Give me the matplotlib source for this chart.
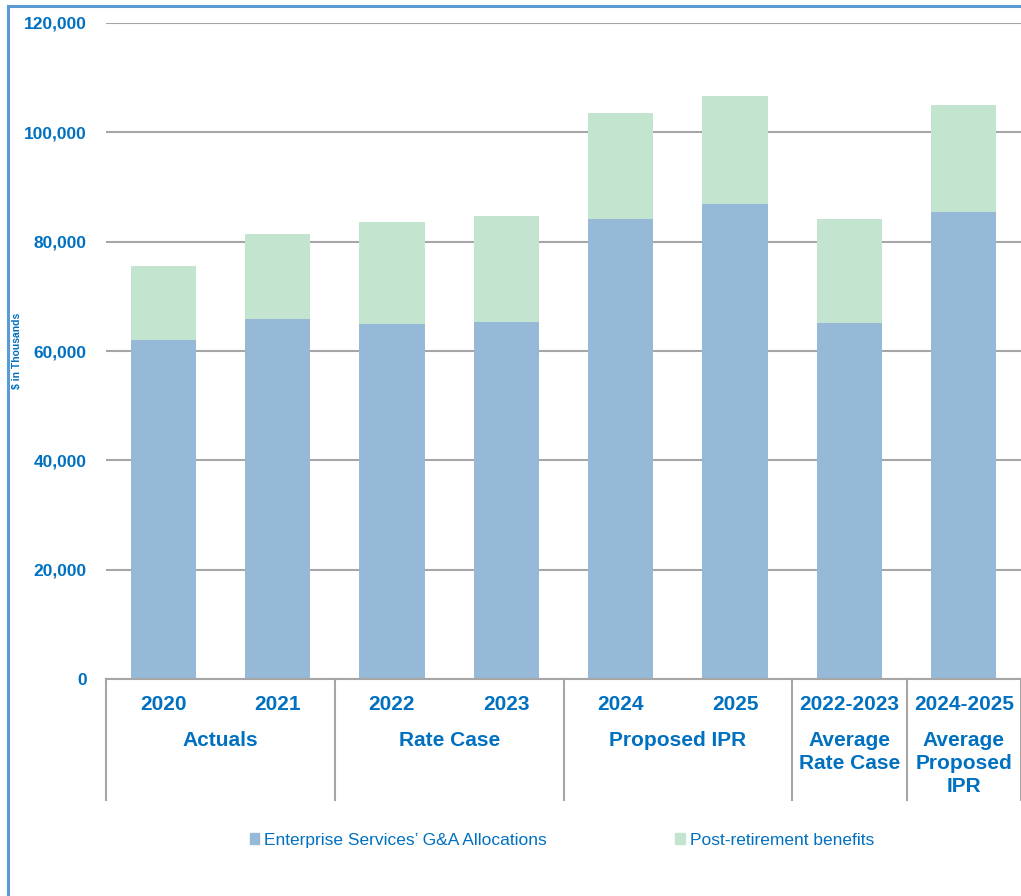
import numpy as np
import matplotlib.pyplot as plt
from matplotlib.patches import Rectangle, Patch
from matplotlib.ticker import FuncFormatter

plt.rcParams['font.family'] = ['Liberation Sans', 'DejaVu Sans']

# Datos en miles de dólares
years = ['2020', '2021', '2022', '2023', '2024', '2025', '2022-2023', '2024-2025']
ga_alloc = [62000, 65900, 64900, 65300, 84100, 86800, 65100, 85400]
post_ret = [13500, 15500, 18700, 19400, 19400, 19800, 19000, 19600]
groups = ['Actuals', 'Rate Case', 'Proposed IPR', 'Average\nRate Case', 'Average\nProposed\nIPR']
group_spans = [(0, 1), (2, 3), (4, 5), (6, 6), (7, 7)]

blue_txt = '#0070C0'
c_ga = '#96B9D7'
c_post = '#C3E4CE'
grid_c = '#A6A6A6'

W, H = 1021, 896
fig = plt.figure(figsize=(W / 100, H / 100), dpi=100)
ax = fig.add_axes([106 / W, 1 - 679 / H, 1 - 106 / W, (679 - 23) / H])

x = np.arange(len(years))
ax.bar(x, ga_alloc, width=0.57, color=c_ga, zorder=3)
ax.bar(x, post_ret, width=0.57, bottom=ga_alloc, color=c_post, zorder=3)

ax.set_xlim(-0.5, len(years) - 0.5)
ax.set_ylim(0, 120000)
ax.set_yticks(np.arange(0, 120001, 20000))
ax.yaxis.set_major_formatter(FuncFormatter(lambda v, p: f'{v:,.0f}'))
ax.yaxis.grid(True, color=grid_c, linewidth=1.5, zorder=0)
ax.tick_params(axis='y', length=0, pad=14, labelsize=12.5, labelcolor=blue_txt)
for lbl in ax.get_yticklabels():
    lbl.set_fontweight('bold')
ax.set_xticks([])
for s in ['top', 'right', 'left']:
    ax.spines[s].set_visible(False)
ax.spines['bottom'].set_color(grid_c)
ax.spines['bottom'].set_linewidth(1.5)
ax.spines['bottom'].set_zorder(4)

# Etiquetas del eje x en dos niveles
ah = 679 - 23
tr = ax.get_xaxis_transform()
for i, y in enumerate(years):
    ax.text(i, -25 / ah, y, transform=tr, ha='center', va='center',
            fontsize=15, fontweight='bold', color=blue_txt)
for g, (a, b) in zip(groups, group_spans):
    ax.text((a + b) / 2, -52 / ah, g, transform=tr, ha='center', va='top',
            fontsize=15, fontweight='bold', color=blue_txt, linespacing=1.25)

# Separadores entre grupos
for xs in [-0.5, 1.5, 3.5, 5.5, 6.5, 7.5]:
    ax.plot([xs, xs], [0, -121 / ah], transform=tr, color=grid_c,
            linewidth=1.5, clip_on=False)

fig.text(17 / W, 1 - 351 / H, '$ in Thousands', rotation=90, ha='center', va='center',
         fontsize=7.5, fontweight='bold', color=blue_txt)

handles = [Patch(color=c_ga, label='Enterprise Services\u2019 G&A Allocations'),
           Patch(color=c_post, label='Post-retirement benefits')]
fig.legend(handles=handles, loc='center', bbox_to_anchor=(562 / W, 1 - 840 / H), ncol=2,
           frameon=False, fontsize=12.5, labelcolor=blue_txt, handlelength=0.55,
           handleheight=0.55, handletextpad=0.3, columnspacing=7.4)

# Marco de la figura
fig.patches.append(Rectangle((8 / W, -0.1), 1.2, 1 - 6 / H + 0.1, transform=fig.transFigure,
                             fill=False, edgecolor='#5B9BD5', linewidth=2.2))

fig.savefig('out.png', dpi=100)
